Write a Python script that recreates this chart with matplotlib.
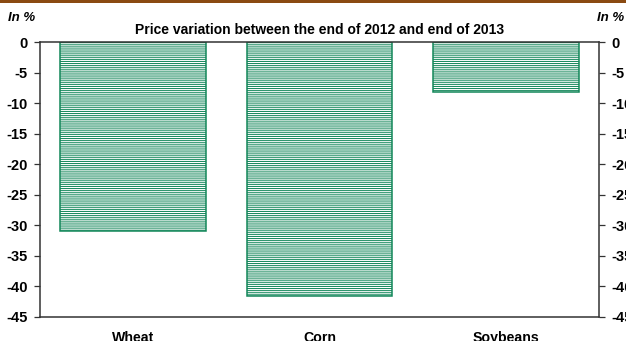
import matplotlib.pyplot as plt
from matplotlib.patches import Rectangle

# data
crops = ["Wheat", "Corn", "Soybeans"]
price_change = [-31.0, -41.6, -8.2]
yticks = [0, -5, -10, -15, -20, -25, -30, -35, -40, -45]

GREEN = "#13875a"
AXIS = "#333333"

plt.rcParams["font.family"] = ["Liberation Sans", "DejaVu Sans"]
plt.rcParams["hatch.linewidth"] = 0.72   # about one pixel at 100 dpi
plt.rcParams["hatch.color"] = GREEN

fig = plt.figure(figsize=(6.26, 3.41), dpi=100)
ax = fig.add_axes([40 / 626, 1 - 317 / 341, 559 / 626, 275 / 341])

x = list(range(len(crops)))
ax.bar(x, price_change, width=0.78, color="white", edgecolor=GREEN,
       hatch="--------", linewidth=1.1)

ax.set_xlim(-0.5, len(crops) - 0.5)
ax.set_ylim(-45, 0)
ax.set_yticks(yticks)
ax.set_yticklabels([str(t) for t in yticks], fontsize=10.5, fontweight="bold")
ax.tick_params(axis="y", which="both", left=True, right=True,
               labelleft=True, labelright=True, length=4, width=0.9,
               color=AXIS, pad=5)
ax.set_xticks(x)
ax.set_xticklabels(crops, fontsize=10.2, fontweight="bold")
ax.tick_params(axis="x", length=0, pad=10)

for side in ["left", "right", "bottom", "top"]:
    ax.spines[side].set_color(AXIS)
    ax.spines[side].set_linewidth(1.1)

# titles and unit labels
fig.text(319.5 / 626, 1 - 30 / 341, "Price variation between the end of 2012 and end of 2013",
         ha="center", va="center", fontsize=10.0, fontweight="bold")
fig.text(8 / 626, 1 - 18 / 341, "In %", ha="left", va="center",
         fontsize=9.5, fontweight="bold", style="italic")
fig.text(597 / 626, 1 - 18 / 341, "In %", ha="left", va="center",
         fontsize=9.5, fontweight="bold", style="italic")

# brown rule along the top
fig.add_artist(Rectangle((0, 1 - 2.5 / 341), 1, 2.5 / 341,
                         transform=fig.transFigure, color="#8a4a12", lw=0))

fig.savefig("out.png", dpi=100)
